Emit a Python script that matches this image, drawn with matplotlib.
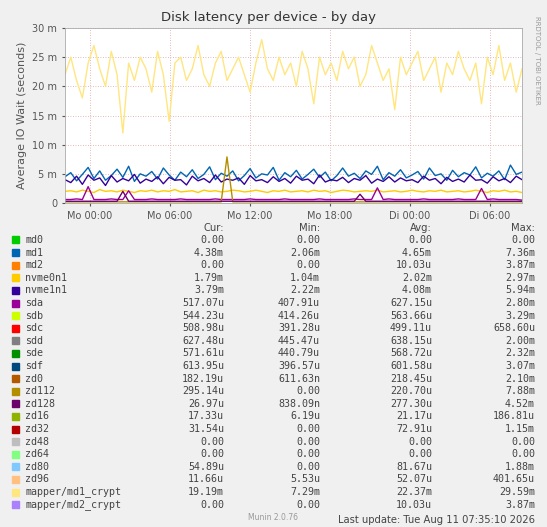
import numpy as np
import matplotlib
matplotlib.use("Agg")
import matplotlib.pyplot as plt

# values in milliseconds
md1_crypt = [22,25,21,18,24,27,23,20,26,22,12,24,21,25,23,19,26,22,14,24,25,21,23,27,22,20,24,26,21,23,
             25,22,19,24,28,23,21,25,22,24,20,26,23,17,25,22,24,21,26,23,25,20,22,27,24,21,23,16,25,22,
             24,26,21,23,25,19,24,22,26,23,21,24,17,25,22,27,21,24,19,23]
md1 = [4.5,5.2,3.8,4.9,6.1,4.2,5.5,3.9,4.7,5.8,4.4,6.3,3.7,5.0,4.6,5.4,4.1,6.0,4.8,3.9,5.3,4.5,5.7,4.2,4.9,6.2,4.0,5.1,4.6,5.5,
       3.8,4.7,5.9,4.3,5.0,4.8,6.1,3.9,5.2,4.5,5.6,4.1,4.9,5.8,4.4,5.3,3.8,4.7,6.0,4.6,5.1,4.2,5.5,4.9,6.3,4.0,5.2,4.6,5.7,4.3,
       4.8,5.4,4.1,6.0,4.7,5.0,3.9,5.6,4.5,5.2,4.8,6.2,4.3,5.1,4.6,5.5,4.0,6.5,4.9,5.3]
nvme1n1 = [4.0,3.5,4.6,3.2,4.8,3.9,4.3,3.0,4.7,3.6,4.2,3.8,4.9,3.4,4.1,3.7,4.5,3.3,4.4,3.9,4.0,3.1,4.6,3.8,4.2,3.5,4.8,3.6,4.1,3.9,
           4.3,3.2,4.7,3.8,4.0,3.5,4.5,3.7,4.2,3.4,4.6,3.9,4.1,3.3,4.8,3.6,4.0,3.8,4.4,3.5,4.2,3.9,4.7,3.4,4.1,3.7,4.5,3.6,4.3,3.8,
           4.0,3.5,4.6,3.9,4.2,3.3,4.4,3.7,4.1,3.6,4.8,3.9,4.0,3.4,4.5,3.8,4.2,3.5,4.6,4.0]
nvme0n1 = [2.0,2.1,1.9,2.2,2.0,1.8,2.3,2.0,2.1,1.9,2.2,2.0,1.8,2.1,2.0,2.2,1.9,2.1,2.0,2.3,1.9,2.0,2.1,1.8,2.2,2.0,2.1,1.9,2.0,2.2,
           2.1,1.9,2.0,2.2,2.0,1.8,2.1,2.0,2.2,1.9,2.0,2.1,1.9,2.2,2.0,2.1,1.8,2.0,2.2,2.1,1.9,2.0,2.1,2.0,2.2,1.9,2.0,2.1,1.9,2.0,
           2.2,2.0,1.9,2.1,2.0,2.2,1.9,2.0,2.1,1.9,2.0,2.2,2.0,1.8,2.1,2.0,2.2,1.9,2.0,1.8]
sda = [0.6,0.6,0.7,0.6,2.8,0.6,0.6,0.6,0.7,0.6,0.6,2.1,0.6,0.6,0.6,0.7,0.6,0.6,0.6,0.6,0.7,0.6,0.6,0.6,0.6,0.6,0.7,0.6,0.6,0.6,
       0.6,0.6,0.7,0.6,0.6,0.6,0.6,0.6,0.7,0.6,0.6,0.6,0.6,0.6,0.7,0.6,0.6,0.6,0.6,0.6,0.7,0.6,0.6,0.6,2.6,0.6,0.7,0.6,0.6,0.6,
       0.6,0.6,0.7,0.6,0.6,0.6,0.6,0.6,0.7,0.6,0.6,0.6,2.5,0.6,0.7,0.6,0.6,0.6,0.6,0.5]
zd112 = [0.2]*28 + [7.9] + [0.2]*51
zd128 = [0.3]*10 + [2.0] + [0.3]*40 + [1.5] + [0.3]*28

cats = ["md0","md1","md2","nvme0n1","nvme1n1","sda","sdb","sdc","sdd","sde","sdf","zd0","zd112","zd128",
        "zd16","zd32","zd48","zd64","zd80","zd96","mapper/md1_crypt","mapper/md2_crypt"]
colors = ["#00CC00","#0066B3","#FF8000","#FFCC00","#330099","#990099","#CCFF00","#FF0000","#808080","#008F00",
          "#00487D","#B35A00","#B38F00","#6B006B","#8FB300","#B30000","#BEBEBE","#80FF80","#80C9FF","#FFC080",
          "#FFE680","#AA80FF"]
cur = ["0.00","4.38m","0.00","1.79m","3.79m","517.07u","544.23u","508.98u","627.48u","571.61u","613.95u","182.19u",
       "295.14u","26.97u","17.33u","31.54u","0.00","0.00","54.89u","11.66u","19.19m","0.00"]
mn = ["0.00","2.06m","0.00","1.04m","2.22m","407.91u","414.26u","391.28u","445.47u","440.79u","396.57u","611.63n",
      "0.00","838.09n","6.19u","0.00","0.00","0.00","0.00","5.53u","7.29m","0.00"]
avg = ["0.00","4.65m","10.03u","2.02m","4.08m","627.15u","563.66u","499.11u","638.15u","568.72u","601.58u","218.45u",
       "220.70u","277.30u","21.17u","72.91u","0.00","0.00","81.67u","52.07u","22.37m","10.03u"]
mx = ["0.00","7.36m","3.87m","2.97m","5.94m","2.80m","3.29m","658.60u","2.00m","2.32m","3.07m","2.10m","7.88m",
      "4.52m","186.81u","1.15m","0.00","0.00","1.88m","401.65u","29.59m","3.87m"]
xticks = [0, 6, 12, 18, 24, 30]
xticklabels = ["Mo 00:00","Mo 06:00","Mo 12:00","Mo 18:00","Di 00:00","Di 06:00"]

W, H = 547, 527
fig = plt.figure(figsize=(W/100, H/100), dpi=100, facecolor="#F0F0F0")
ax = fig.add_axes([65/W, 1-203/H, 457/W, 175/H], facecolor="white")
t0, t1 = -1.875, 32.4
series = [(md1_crypt, "#FFE680"), (md1, "#0066B3"), (nvme1n1, "#330099"), (nvme0n1, "#FFCC00"),
          (sda, "#990099"), (zd112, "#B38F00"), (zd128, "#6B006B")]
for s, c in series:
    x = np.linspace(t0, t1, len(s))
    ax.plot(x, s, color=c, lw=1)
ax.set_xlim(t0, t1)
ax.set_ylim(0, 30)
ax.set_yticks([0,5,10,15,20,25,30])
ax.set_yticklabels(["0","5 m","10 m","15 m","20 m","25 m","30 m"])
ax.set_xticks(xticks)
ax.set_xticklabels(xticklabels)
ax.grid(True, color="#E0A0A0", ls=(0,(1,2)), lw=0.6)
ax.tick_params(labelsize=7, colors="#555555", length=2)
for sp in ax.spines.values():
    sp.set_color("#AAAAAA"); sp.set_linewidth(0.6)
ax.set_ylabel("Average IO Wait (seconds)", fontsize=8, color="#555555")
fig.text(W/2/W*0.98, 1-18/H, "Disk latency per device - by day", ha="center", va="center", fontsize=9.5, color="#333333")
fig.text(537/W, 1-60/H, "RRDTOOL / TOBI OETIKER", rotation=270, fontsize=5, color="#999999", ha="center", va="center")

fs = 7.2
col = "#444444"
def y(p): return 1 - p/H
for xp, h in [(224,"Cur:"),(320,"Min:"),(432,"Avg:"),(535,"Max:")]:
    fig.text(xp/W, y(228), h, ha="right", va="center", fontsize=fs, color=col)
for i, c in enumerate(cats):
    yy = 240 + i*12.6
    fig.patches.append(plt.Rectangle((12/W, y(yy)-3.5/H), 7/W, 7/H, transform=fig.transFigure, color=colors[i]))
    fig.text(25/W, y(yy), c, va="center", fontsize=fs, color=col, family="DejaVu Sans Mono")
    for xp, v in [(224,cur[i]),(320,mn[i]),(432,avg[i]),(535,mx[i])]:
        fig.text(xp/W, y(yy), v, ha="right", va="center", fontsize=fs, color=col, family="DejaVu Sans Mono")
fig.text(535/W, y(520), "Last update: Tue Aug 11 07:35:10 2026", ha="right", va="center", fontsize=fs, color=col)
fig.text(273/W, y(517), "Munin 2.0.76", ha="center", va="center", fontsize=5.5, color="#999999")
fig.savefig("out.png", dpi=100, facecolor=fig.get_facecolor())
